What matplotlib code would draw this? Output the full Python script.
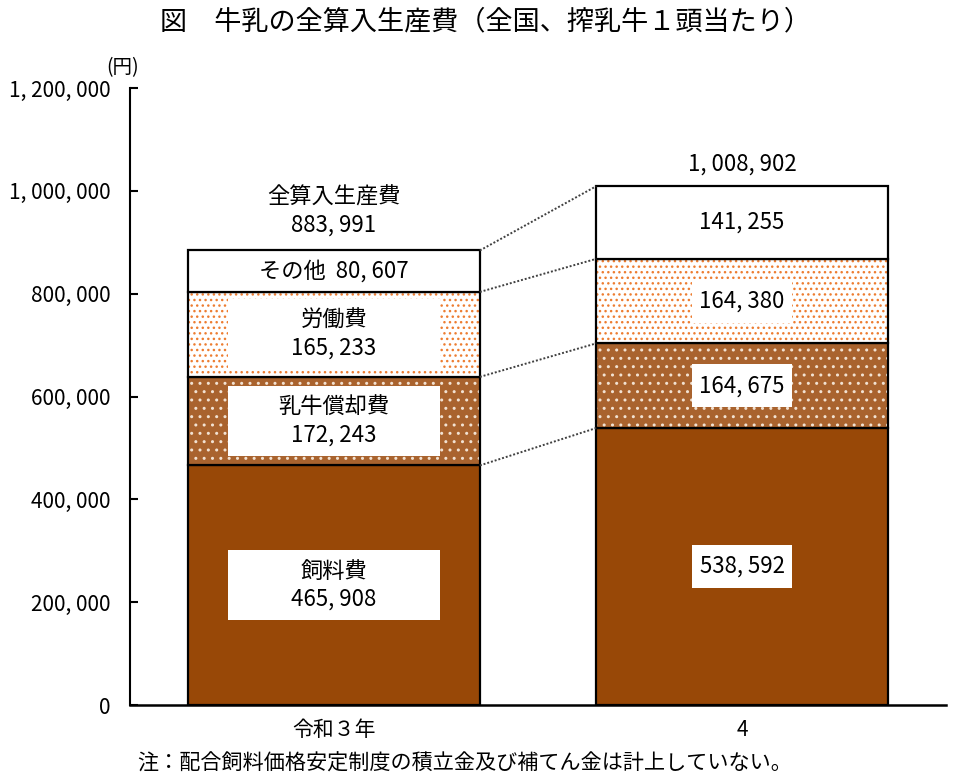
import numpy as np
import matplotlib
matplotlib.use("Agg")
import matplotlib.pyplot as plt
from matplotlib.patches import Rectangle

plt.rcParams['font.family'] = ['Noto Sans CJK JP', 'DejaVu Sans']
plt.rcParams['hatch.linewidth'] = 1.0

# data (円, 搾乳牛1頭当たり)
years = ['令和３年', '4']
feed = [465908, 538592]
depreciation = [172243, 164675]
labor = [165233, 164380]
other = [80607, 141255]
totals = [883991, 1008902]

seg_names = ['飼料費', '乳牛償却費', '労働費', 'その他']
seg_values = [feed, depreciation, labor, other]
seg_colors = ['#984807', '#A9632E', 'white', 'white']
seg_hatch = [None, '..', '...', None]
seg_hatch_color = ['#984807', '#F2E2D2', '#ED7D31', 'white']


def fmt(v):
    return f"{v:,}".replace(",", ", ")


fig = plt.figure(figsize=(9.6, 7.81), dpi=100)
ax = fig.add_axes([130 / 960, 1 - 705 / 781, 816 / 960, 617 / 781])

x = np.arange(len(years))
w = 0.715
bottom = np.zeros(len(years))
tops = []
for vals, fc, hatch, hc in zip(seg_values, seg_colors, seg_hatch, seg_hatch_color):
    # fill + pattern, then black outline on top
    ax.bar(x, vals, w, bottom=bottom, color=fc, hatch=hatch,
           edgecolor=hc, linewidth=0)
    ax.bar(x, vals, w, bottom=bottom, fill=False, edgecolor='black',
           linewidth=1.6)
    bottom = bottom + np.array(vals)
    tops.append(bottom.copy())

# dotted connector lines between the bars
for t in tops:
    ax.plot([x[0] + w / 2, x[1] - w / 2], [t[0], t[1]], color='#404040',
            linestyle=(0, (1, 1)), linewidth=1.4)

# labels inside segments
box_w = [0.52, 0.245]
box_h = [136000, 84000]
fs = 16
bottom = np.zeros(len(years))
for k, (name, vals) in enumerate(zip(seg_names, seg_values)):
    for i in range(len(years)):
        yc = bottom[i] + vals[i] / 2
        if i == 0 and name != 'その他':
            txt = name + "\n" + fmt(vals[i])
        elif i == 0:
            txt = name + "  " + fmt(vals[i])
        else:
            txt = fmt(vals[i])
        if name != 'その他':
            ax.add_patch(Rectangle((x[i] - box_w[i] / 2, yc - box_h[i] / 2),
                                   box_w[i], box_h[i], facecolor='white',
                                   edgecolor='none', zorder=3))
        ax.text(x[i], yc, txt, ha='center', va='center', fontsize=fs,
                linespacing=1.3, zorder=4)
    bottom = bottom + np.array(vals)

# totals above bars
ax.annotate("全算入生産費\n" + fmt(totals[0]), (x[0], totals[0]),
            xytext=(0, 10), textcoords='offset points', ha='center',
            va='bottom', fontsize=fs, linespacing=1.3)
ax.annotate(fmt(totals[1]), (x[1], totals[1]), xytext=(0, 8),
            textcoords='offset points', ha='center', va='bottom', fontsize=fs)

ax.set_xlim(-0.5, 1.5)
ax.set_ylim(0, 1200000)
yt = np.arange(0, 1200001, 200000)
ax.set_yticks(yt)
ax.set_yticklabels([fmt(v) for v in yt], fontsize=15)
ax.set_xticks(x)
ax.set_xticklabels(years, fontsize=15)
ax.tick_params(axis='y', direction='in', length=6, width=1.5, pad=14)
ax.tick_params(axis='x', length=0, pad=10)
for s in ['top', 'right']:
    ax.spines[s].set_visible(False)
ax.spines['left'].set_linewidth(1.5)
ax.spines['bottom'].set_linewidth(1.8)

fig.text(106 / 960, 1 - 68 / 781, "(円)", fontsize=14, va='center')
fig.text(486 / 960, 1 - 22 / 781, "図　牛乳の全算入生産費（全国、搾乳牛１頭当たり）",
         fontsize=19.5, ha='center', va='center')
fig.text(137 / 960, 1 - 764 / 781,
         "注：配合飼料価格安定制度の積立金及び補てん金は計上していない。",
         fontsize=15.2, ha='left', va='center')

fig.savefig("out.png", dpi=100)
